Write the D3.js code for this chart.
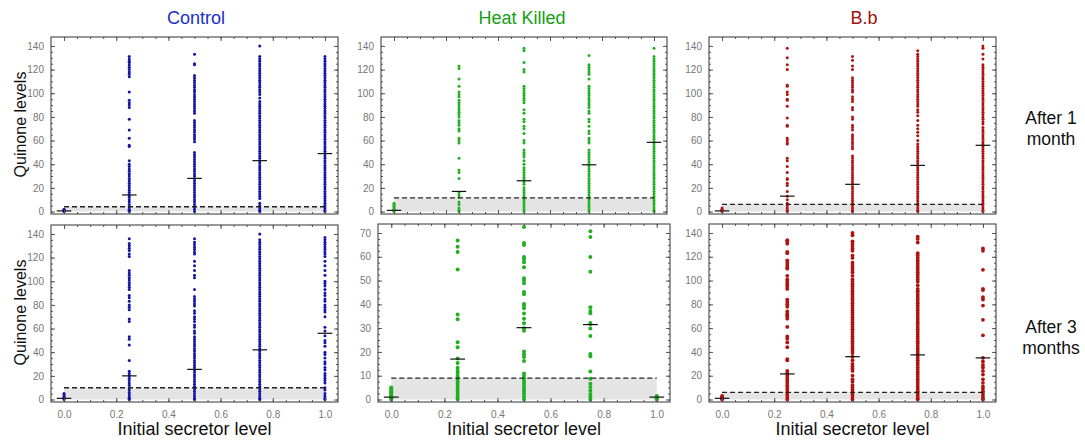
<!DOCTYPE html>
<html>
<head>
<meta charset="utf-8">
<script src="https://cdn.jsdelivr.net/npm/d3@7"></script>
<style>
  body { margin: 0; background: #fff; }
  svg { display: block; font-family: "Liberation Sans", Arial, sans-serif; }
</style>
</head>
<body>
<svg id="chart" width="1085" height="441"></svg>
<script>
// secretor levels (x) shared by every panel
var levels = [0, 0.25, 0.5, 0.75, 1.0];
var xTicks = [0, 0.2, 0.4, 0.6, 0.8, 1.0];
var colTitles = ["Control", "Heat Killed", "B.b"];
var rowTitles = [["After 1", "month"], ["After 3", "months"]];

// Control, after 1 month
var ctrl1 = [
  [0, 0.5, 1, 1.5, 2],
  [131,129,127,126,124,122,120,118,116,114,101,94,92,90,88,78,69,62,56,55,43,40,38,36,34,32,30,28,26,24,22,20,18,16,14,12,10,8,6,4,2,1,0],
  [133,125,124,115,113,111,109,107,105,103,101,99,97,95,93,91,89,87,85,83,77,75,73,71,69,67,65,63,61,59,50,48,46,44,42,40,38,36,34,32,30,28,26,24,22,20,18,16,14,12,10,8,6,4,2,0],
  [140,131,129,127,125,123,121,119,117,115,113,111,109,107,105,103,101,99,96,93,91,89,87,85,83,81,79,77,75,73,71,69,67,65,63,61,59,57,55,53,51,49,47,45,43,41,39,37,35,33,31,29,27,25,23,21,19,17,15,13,11,7,5,3,1,0],
  [131,129,127,125,123,121,119,117,115,113,111,109,107,105,103,101,99,97,95,93,91,89,87,85,83,81,79,77,75,73,71,69,67,65,63,61,59,57,55,53,51,49,47,45,43,41,39,37,35,33,31,29,27,25,23,21,19,17,15,13,11,9,7,5,3,1,0]
];
var ctrl1Median = [0.5, 14, 28, 43, 49];
var ctrl1Cut = 4;

// Control, after 3 months
var ctrl3 = [
  [0, 1, 2, 3, 4, 5],
  [136,132,130,128,126,123,121,109,107,105,103,101,99,97,95,93,88,86,83,80,78,76,68,66,53,51,46,33,24,22,20,18,16,14,12,10,8,6,4,2,1,0],
  [136,133,131,129,127,125,123,117,113,109,105,103,93,87,85,83,81,79,75,73,70,68,66,63,61,58,56,53,51,49,47,45,43,41,39,37,35,33,31,29,27,25,23,21,19,17,15,13,11,9,7,5,3,1,0],
  [140,135,133,131,129,127,125,123,121,119,117,115,113,111,109,107,105,103,101,99,97,95,93,91,89,87,85,83,81,79,77,75,73,71,69,67,65,63,61,59,57,55,53,51,49,47,45,43,41,39,37,35,33,31,29,27,25,23,21,19,17,15,13,11,9,7,5,3,1,0],
  [137,135,133,131,129,127,125,123,121,117,113,109,105,100,98,96,93,90,88,85,83,80,78,76,74,70,61,58,54,50,48,45,40,38,35,32,30,27,25,22,20,18,16,14,10,8,5,3,1,0]
];
var ctrl3Median = [1, 20, 25.5, 42, 56];
var ctrl3Cut = 10;

// Heat killed, after 1 month
var heat1 = [
  [0, 1, 2, 3, 4, 5, 6, 7],
  [123,121,112,106,101,99,97,94,92,90,88,86,84,82,80,77,75,73,70,68,62,60,58,45,35,33,28,16,14,12,8,6,3,1,0],
  [138,136,126,120,118,106,104,102,100,98,96,94,92,86,83,78,76,72,70,66,60,58,52,50,48,46,43,40,37,35,33,31,29,27,25,23,20,18,16,14,12,10,8,6,4,2,0],
  [132,124,122,120,118,116,112,106,104,102,100,98,96,94,92,90,88,85,83,78,76,72,68,66,62,60,58,52,50,48,46,44,42,40,38,36,34,32,30,28,26,24,22,20,18,16,14,12,10,8,6,4,2,0],
  [138,131,129,127,125,123,121,119,117,115,113,111,109,107,105,103,101,99,97,95,93,91,89,87,85,83,81,79,77,75,73,71,69,67,65,63,61,59,57,55,53,51,49,47,45,43,41,39,37,35,33,31,29,27,25,23,21,19,17,15,13,11,9,7,5,3,1,0]
];
var heat1Median = [1, 17, 26, 39.5, 58.5];
var heat1Cut = 11.5;

// Heat killed, after 3 months
var heat3 = [
  [0, 0.5, 1, 1.5, 2, 2.5, 3, 3.5, 4, 4.5, 5],
  [66.8,64.2,62,54.7,35.7,33.7,24.1,22,17.2,15.3,13.3,12.1,11.1,9.9,8.7,7.7,6.6,5.5,4.5,3.4,2.3,1.2,0.1],
  [72.5,65.8,64.9,59.9,59,57.7,55.6,51,50,48.9,45.2,44.2,40.2,39.5,38.4,36.2,34,32.1,30,28.9,20.2,19,17.9,16.2,10.9,9.9,8.7,7.7,6.6,5.5,4.4,3.4,2.3,1.2,0],
  [70.7,68.3,59.9,53.7,38.8,37.2,36.3,32.2,31.6,29.9,26.7,19.1,18.2,11.8,8.7,6.6,5.3,3.8,2.3,1.2,0],
  [0, 0.5, 1, 1.5]
];
var heat3Median = [1, 17, 30.2, 31.5, 1];
var heat3Cut = 9;

// B.b, after 1 month
var bb1 = [
  [0, 1, 2, 3],
  [138,130,124,120,107,106,101,99,95,94,89,79,73,72,62,60,58,57,45,43,38,33,28,27,24,22,17,13,10,7,5,3,1,0],
  [131,128,123,120,113,111,109,107,105,103,101,97,95,93,88,86,80,78,73,71,69,65,63,61,59,57,55,53,47,45,43,41,39,37,35,33,31,29,27,25,23,21,19,17,15,13,11,9,7,5,3,1,0],
  [136,133,131,129,127,125,123,121,119,117,115,113,111,109,107,105,103,101,99,97,95,93,91,89,86,84,81,77,73,70,67,64,60,57,55,53,51,49,47,45,43,41,39,37,35,33,31,29,27,25,23,21,19,17,15,13,11,9,7,5,3,1,0],
  [140,138,133,129,124,122,120,118,116,114,112,110,108,106,104,102,100,98,96,94,92,90,88,86,84,82,80,78,76,74,71,69,67,65,63,61,59,57,55,53,51,49,47,45,43,41,39,37,35,33,31,29,27,25,23,21,19,17,15,13,11,9,7,5,3,1,0]
];
var bb1Median = [0.5, 13, 23, 39, 56];
var bb1Cut = 6;

// B.b, after 3 months
var bb3 = [
  [0, 1, 2, 3],
  [134,133,131,124,123,117,115,113,111,110,104,101,99,97,95,93,84,82,80,78,74,72,71,70,68,61,53,51,48,44,34,33,24,22,20,18,16,14,12,10,8,6,4,2,0],
  [140,138,133,131,129,127,125,121,119,115,113,111,109,107,104,101,99,97,95,93,91,89,87,85,83,81,79,77,75,73,71,69,67,65,63,61,59,57,55,53,51,49,47,45,43,41,39,36,33,30,28,26,24,20,17,15,12,10,8,6,4,2,0],
  [137,135,132,123,121,119,117,115,113,111,109,107,105,103,101,99,96,93,91,89,87,85,83,81,79,77,75,73,71,69,67,65,63,61,59,57,55,53,51,49,47,45,43,41,39,37,35,33,31,29,27,25,23,21,19,17,15,13,11,9,7,5,3,1,0],
  [127,125,109,93,92,86,84,79,67,54,35,32,29,27,24,21,17,14,11,9,7,5,3,1,0]
];
var bb3Median = [1, 21.5, 36, 37.5, 35];
var bb3Cut = 6;

var yTicks140 = [0, 20, 40, 60, 80, 100, 120, 140];
var yTicks70 = [0, 10, 20, 30, 40, 50, 60, 70];

var svg = d3.select("#chart");

// panel boxes, in pixels
var panels = [
  {cols: ctrl1, med: ctrl1Median, cut: ctrl1Cut, x0: 51, x1: 338, y0: 37, y1: 214, ymax: 140, yt: yTicks140, color: "#1414a8", r: 1.5, col: 0, row: 0},
  {cols: heat1, med: heat1Median, cut: heat1Cut, x0: 381, x1: 667, y0: 37, y1: 214, ymax: 140, yt: yTicks140, color: "#22b022", r: 1.5, col: 1, row: 0},
  {cols: bb1,   med: bb1Median,   cut: bb1Cut,   x0: 709, x1: 996, y0: 37, y1: 214, ymax: 140, yt: yTicks140, color: "#b01212", r: 1.5, col: 2, row: 0},
  {cols: ctrl3, med: ctrl3Median, cut: ctrl3Cut, x0: 51, x1: 338, y0: 225, y1: 402, ymax: 140, yt: yTicks140, color: "#1414a8", r: 1.5, col: 0, row: 1},
  {cols: heat3, med: heat3Median, cut: heat3Cut, x0: 378, x1: 670, y0: 224, y1: 402, ymax: 70, yt: yTicks70, color: "#22b022", r: 2.0, col: 1, row: 1},
  {cols: bb3,   med: bb3Median,   cut: bb3Cut,   x0: 709, x1: 996, y0: 224, y1: 402, ymax: 140, yt: yTicks140, color: "#b01212", r: 1.9, col: 2, row: 1}
];

panels.forEach(function(p) {
  var x = d3.scaleLinear().domain([-0.05, 1.05]).range([p.x0, p.x1]);
  var pad = p.ymax / 140;
  var y = d3.scaleLinear().domain([-2.1 * pad, p.ymax * 1.054]).range([p.y1, p.y0]);
  var g = svg.append("g");

  // shaded band under the threshold
  g.append("rect")
    .attr("x", x(0)).attr("width", x(1) - x(0))
    .attr("y", y(p.cut)).attr("height", y(0) - y(p.cut))
    .attr("fill", "#e4e4e4");

  // points
  p.cols.forEach(function(vals, i) {
    g.selectAll(null).data(vals).enter().append("circle")
      .attr("cx", x(levels[i]))
      .attr("cy", function(d) { return y(d); })
      .attr("r", p.r)
      .attr("fill", p.color);
  });

  // dashed threshold
  g.append("line")
    .attr("x1", x(0)).attr("x2", x(1))
    .attr("y1", y(p.cut)).attr("y2", y(p.cut))
    .attr("stroke", "#222").attr("stroke-width", 1.4)
    .attr("stroke-dasharray", "5,3");

  // medians
  g.selectAll(null).data(p.med).enter().append("line")
    .attr("x1", function(d, i) { return x(levels[i] - 0.028); })
    .attr("x2", function(d, i) { return x(levels[i] + 0.028); })
    .attr("y1", function(d) { return y(d); })
    .attr("y2", function(d) { return y(d); })
    .attr("stroke", "#111").attr("stroke-width", 1.2);

  // ticks on all four sides, pointing in
  var xMinor = d3.range(0, 1.0001, 0.05);
  var yMinor = d3.range(0, p.ymax + 0.001, p.ymax / 28);
  function axisGroup(axis, tx, ty) {
    var a = g.append("g").attr("transform", "translate(" + tx + "," + ty + ")").call(axis);
    a.select(".domain").remove();
    a.selectAll("line").attr("stroke", "#555");
    a.selectAll("text").attr("fill", "#777").style("font-size", "10px")
      .style("font-family", "'Liberation Sans', Arial, sans-serif");
    return a;
  }
  var fmtX = p.row === 1 ? d3.format(".1f") : function() { return ""; };
  axisGroup(d3.axisBottom(x).tickValues(xMinor).tickSize(-2).tickFormat(""), 0, p.y1);
  axisGroup(d3.axisBottom(x).tickValues(xTicks).tickSize(-4).tickPadding(9).tickFormat(fmtX), 0, p.y1);
  axisGroup(d3.axisTop(x).tickValues(xMinor).tickSize(-2).tickFormat(""), 0, p.y0);
  axisGroup(d3.axisTop(x).tickValues(xTicks).tickSize(-4).tickFormat(""), 0, p.y0);
  axisGroup(d3.axisLeft(y).tickValues(yMinor).tickSize(-2).tickFormat(""), p.x0, 0);
  axisGroup(d3.axisLeft(y).tickValues(p.yt).tickSize(-4).tickPadding(7).tickFormat(d3.format("d")), p.x0, 0);
  axisGroup(d3.axisRight(y).tickValues(yMinor).tickSize(-2).tickFormat(""), p.x1, 0);
  axisGroup(d3.axisRight(y).tickValues(p.yt).tickSize(-4).tickFormat(""), p.x1, 0);

  // frame
  g.append("rect")
    .attr("x", p.x0).attr("y", p.y0)
    .attr("width", p.x1 - p.x0).attr("height", p.y1 - p.y0)
    .attr("fill", "none").attr("stroke", "#444").attr("stroke-width", 1.1);

  if (p.row === 1) {
    svg.append("text")
      .attr("x", (x(0) + x(1)) / 2).attr("y", 435)
      .attr("text-anchor", "middle").style("font-size", "18px").attr("fill", "#111")
      .text("Initial secretor level");
  }
  if (p.col === 0) {
    svg.append("text")
      .attr("transform", "translate(26," + ((p.y0 + p.y1) / 2 - 1) + ") rotate(-90)")
      .attr("text-anchor", "middle").style("font-size", "16px").attr("fill", "#111")
      .text("Quinone levels");
  }
});

// column titles
var titleX = [196, 522, 864];
var titleColors = ["#1a2fcc", "#12a012", "#a01010"];
colTitles.forEach(function(t, i) {
  svg.append("text")
    .attr("x", titleX[i]).attr("y", 24)
    .attr("text-anchor", "middle").style("font-size", "18px").attr("fill", titleColors[i])
    .text(t);
});

// row labels
var rowY = [124, 333];
rowTitles.forEach(function(lines, i) {
  lines.forEach(function(s, j) {
    svg.append("text")
      .attr("x", 1051).attr("y", rowY[i] + j * 21)
      .attr("text-anchor", "middle").style("font-size", "17.5px").attr("fill", "#111")
      .text(s);
  });
});
</script>
</body>
</html>
